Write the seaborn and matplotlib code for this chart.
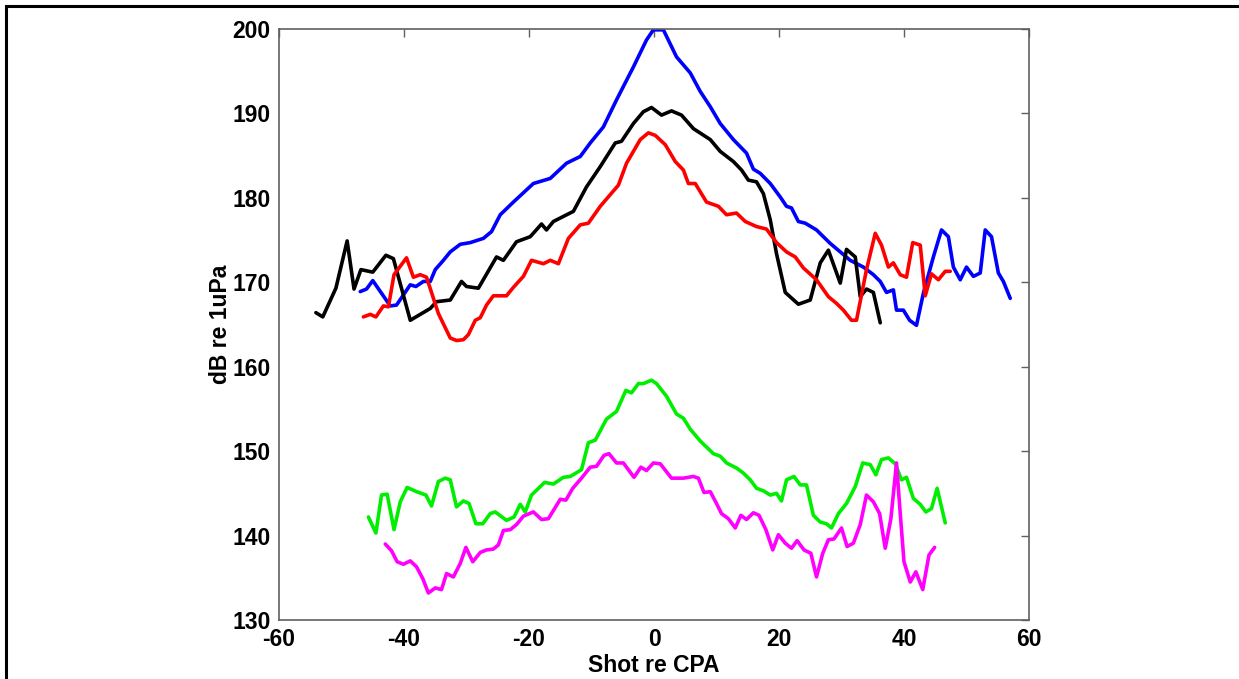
import matplotlib
matplotlib.use("Agg")
import matplotlib.pyplot as plt
from matplotlib.patches import Rectangle
import seaborn as sns
import pandas as pd

# shot number re CPA vs received level
black_x = [-54.1, -53.0, -50.9, -49.1, -48.0, -46.9, -45.0, -42.9, -41.7, -39.0, -35.8, -34.8, -32.6, -30.8,
           -30.0, -28.1, -25.2, -24.1, -22.0, -19.8, -18.0, -17.2, -16.1, -14.5, -12.9, -10.8, -8.6, -6.2, -5.2,
           -3.3, -1.7, -0.4, 1.2, 2.8, 4.4, 6.3, 9.0, 10.6, 12.7, 14.0, 15.1, 16.4, 17.5, 18.6, 19.6, 21.0, 23.1,
           25.0, 26.6, 27.9, 29.8, 30.8, 32.2, 33.0, 34.0, 35.1, 36.2]
black_y = [166.4, 165.9, 169.3, 174.9, 169.2, 171.5, 171.2, 173.2, 172.8, 165.5, 166.9, 167.7, 167.9, 170.1,
           169.5, 169.3, 173.0, 172.6, 174.8, 175.4, 176.9, 176.2, 177.2, 177.8, 178.4, 181.3, 183.7, 186.5, 186.7,
           188.8, 190.2, 190.7, 189.8, 190.3, 189.8, 188.2, 186.9, 185.5, 184.3, 183.3, 182.1, 181.9, 180.5, 177.4,
           173.4, 168.8, 167.4, 167.9, 172.3, 173.8, 169.9, 173.9, 173.0, 168.3, 169.2, 168.8, 165.2]

blue_x = [-47.0, -46.0, -45.0, -42.2, -41.2, -39.0, -38.1, -36.9, -35.8, -35.0, -33.7, -32.6, -31.0, -29.4, -27.3,
          -26.0, -24.6, -22.5, -19.3, -16.6, -14.0, -11.8, -10.2, -8.1, -6.0, -3.3, -1.2, -0.1, 1.5, 3.6, 5.8, 7.4,
          9.0, 10.6, 12.7, 14.8, 15.9, 17.0, 18.6, 20.2, 21.2, 22.0, 23.1, 24.2, 26.0, 28.2, 29.8, 31.4, 33.5, 35.1,
          36.2, 37.2, 38.3, 38.8, 39.9, 40.9, 42.0, 43.1, 44.7, 46.0, 47.1, 47.9, 49.0, 50.0, 51.1, 52.2, 53.0, 54.0,
          55.1, 55.9, 57.0]
blue_y = [168.9, 169.2, 170.2, 167.2, 167.3, 169.7, 169.5, 170.1, 170.1, 171.5, 172.6, 173.6, 174.5, 174.7, 175.2,
          176.0, 178.0, 179.5, 181.7, 182.3, 184.1, 184.9, 186.5, 188.4, 191.6, 195.5, 198.7, 199.9, 199.9, 196.7,
          194.8, 192.6, 190.8, 188.8, 186.9, 185.3, 183.4, 182.9, 181.7, 180.1, 179.0, 178.8, 177.2, 177.0, 176.2,
          174.6, 173.6, 172.6, 171.8, 170.9, 170.1, 168.8, 169.1, 166.7, 166.7, 165.5, 164.9, 168.7, 173.0, 176.2,
          175.4, 171.8, 170.3, 171.8, 170.7, 171.1, 176.2, 175.4, 171.1, 170.1, 168.1]

red_x = [-46.5, -45.4, -44.5, -43.3, -42.5, -41.6, -40.6, -39.6, -38.5, -37.4, -36.4, -34.5, -32.6, -31.6, -30.5,
         -29.7, -28.6, -27.8, -26.8, -25.7, -23.6, -22.5, -20.9, -19.6, -17.7, -16.6, -15.3, -13.7, -11.8, -10.5,
         -8.6, -5.7, -4.4, -2.2, -0.9, 0.2, 1.8, 3.4, 4.7, 5.5, 6.6, 8.4, 10.3, 11.6, 13.2, 14.6, 16.4, 18.0, 19.6,
         21.2, 22.6, 23.9, 26.0, 27.9, 29.2, 30.3, 31.6, 32.4, 34.0, 35.4, 36.4, 37.5, 38.3, 39.4, 40.4, 41.4, 42.6,
         43.4, 44.4, 45.5, 46.6, 47.4]
red_y = [165.9, 166.2, 165.9, 167.2, 167.1, 170.9, 171.9, 172.9, 170.6, 170.9, 170.6, 166.3, 163.4, 163.1, 163.2,
         163.8, 165.5, 165.8, 167.3, 168.4, 168.4, 169.4, 170.7, 172.6, 172.2, 172.6, 172.2, 175.2, 176.8, 177.0,
         179.0, 181.5, 184.1, 186.9, 187.7, 187.4, 186.3, 184.3, 183.3, 181.7, 181.7, 179.5, 179.0, 178.0, 178.2,
         177.2, 176.6, 176.3, 174.7, 173.6, 173.0, 171.7, 170.3, 168.3, 167.5, 166.7, 165.5, 165.5, 171.5, 175.8,
         174.4, 171.8, 172.3, 170.9, 170.6, 174.7, 174.4, 168.4, 171.0, 170.3, 171.3, 171.3]

green_x = [-45.7, -44.5, -43.6, -42.7, -41.6, -40.6, -39.5, -38.0, -36.5, -35.6, -34.5, -33.4, -32.6, -31.6, -30.5,
           -29.6, -28.5, -27.4, -26.2, -25.4, -23.6, -22.4, -21.4, -20.6, -19.6, -17.5, -16.1, -14.5, -13.4, -11.6,
           -10.5, -9.4, -7.6, -6.0, -4.5, -3.6, -2.5, -1.7, -0.4, 0.4, 2.0, 3.6, 4.7, 5.8, 7.4, 9.5, 10.6, 11.6,
           13.2, 14.3, 15.4, 16.4, 17.5, 18.6, 19.6, 20.4, 21.2, 22.4, 23.4, 24.4, 25.5, 26.6, 27.6, 28.4, 29.5,
           30.8, 32.2, 33.4, 34.6, 35.5, 36.4, 37.5, 38.6, 39.6, 40.4, 41.5, 42.6, 43.5, 44.4, 45.3, 46.6]
green_y = [142.2, 140.3, 144.8, 144.9, 140.7, 144.0, 145.7, 145.2, 144.8, 143.5, 146.4, 146.8, 146.6, 143.4, 144.1,
           143.8, 141.4, 141.4, 142.6, 142.8, 141.8, 142.2, 143.7, 142.8, 144.8, 146.3, 146.1, 146.9, 147.0, 147.8,
           151.0, 151.3, 153.8, 154.7, 157.2, 156.9, 158.0, 158.0, 158.4, 158.0, 156.5, 154.4, 153.9, 152.6, 151.2,
           149.7, 149.4, 148.6, 148.0, 147.4, 146.6, 145.6, 145.3, 144.8, 145.0, 144.1, 146.6, 147.0, 146.0, 146.0,
           142.4, 141.6, 141.4, 140.9, 142.6, 143.8, 145.8, 148.6, 148.4, 147.2, 149.0, 149.2, 148.5, 146.6, 146.9,
           144.4, 143.7, 142.8, 143.2, 145.6, 141.5]

magenta_x = [-43.0, -42.0, -41.1, -40.1, -39.0, -38.0, -37.0, -36.1, -35.0, -34.0, -33.2, -32.1, -31.0, -30.1, -29.0,
             -27.8, -26.8, -25.7, -24.9, -24.1, -23.0, -22.0, -20.9, -19.3, -18.0, -16.9, -15.0, -14.1, -13.0, -11.6,
             -10.2, -9.2, -8.0, -7.2, -6.0, -4.9, -3.2, -2.1, -1.2, -0.1, 1.0, 2.8, 4.7, 6.3, 7.1, 8.0, 9.0, 10.0,
             10.8, 11.9, 13.0, 13.9, 14.8, 15.9, 16.8, 17.9, 19.0, 19.9, 21.0, 22.0, 22.9, 24.0, 25.1, 26.0, 27.0,
             27.9, 28.8, 30.0, 30.9, 31.9, 33.0, 34.0, 35.1, 36.1, 37.0, 37.9, 38.8, 39.4, 40.0, 41.0, 41.9, 43.0,
             44.0, 44.9]
magenta_y = [139.0, 138.2, 136.9, 136.6, 137.0, 136.3, 134.9, 133.2, 133.8, 133.6, 135.5, 135.1, 136.7, 138.6, 136.9,
             138.0, 138.3, 138.4, 138.9, 140.6, 140.7, 141.3, 142.3, 142.8, 141.9, 142.0, 144.3, 144.2, 145.6, 146.8,
             148.1, 148.2, 149.5, 149.7, 148.6, 148.6, 146.9, 148.1, 147.7, 148.6, 148.5, 146.8, 146.8, 147.0, 146.8,
             145.1, 145.2, 143.8, 142.6, 142.0, 140.9, 142.4, 141.9, 142.7, 142.4, 140.7, 138.3, 140.1, 139.1, 138.5,
             139.4, 138.3, 137.9, 135.1, 137.9, 139.5, 139.6, 140.9, 138.7, 139.1, 141.3, 144.8, 144.0, 142.6, 138.5,
             142.0, 148.6, 142.6, 136.9, 134.5, 135.7, 133.6, 137.7, 138.6]

x_ticks = [-60, -40, -20, 0, 20, 40, 60]
y_ticks = [130, 140, 150, 160, 170, 180, 190, 200]

sns.set_style("white")
plt.rcParams['font.family'] = ['Liberation Sans', 'DejaVu Sans']
plt.rcParams['font.weight'] = 'bold'
plt.rcParams['axes.unicode_minus'] = False

fig = plt.figure(figsize=(12.39, 6.79), dpi=100)
ax = fig.add_axes([0.2252, 0.0869, 0.6053, 0.8704])

series = [(blue_x, blue_y, "#0000ff"), (black_x, black_y, "#000000"), (red_x, red_y, "#ff0000"),
          (green_x, green_y, "#00ee00"), (magenta_x, magenta_y, "#ff00ff")]
for xs, ys, col in series:
    df = pd.DataFrame({"x": xs, "y": ys})
    sns.lineplot(data=df, x="x", y="y", sort=False, color=col, linewidth=2.6, ax=ax)

ax.set_xlim(-60, 60)
ax.set_ylim(130, 200)
ax.set_xticks(x_ticks)
ax.set_yticks(y_ticks)
ax.tick_params(direction="in", length=6, width=1, color="#606060", labelsize=16.5,
               labelcolor="black", top=True, right=True, pad=6)
for lab in ax.get_xticklabels() + ax.get_yticklabels():
    lab.set_fontweight("bold")
for sp in ax.spines.values():
    sp.set_color("#606060")
    sp.set_linewidth(1.2)
ax.set_xlabel("Shot re CPA", fontsize=16.5, fontweight="bold", color="black", labelpad=2)
ax.set_ylabel("dB re 1uPa", fontsize=16.5, fontweight="bold", color="black", labelpad=0)

# black frame round the whole figure
fig.patches.append(Rectangle((6 / 1239, -0.05), 1.1, 1.05 - 6 / 679, transform=fig.transFigure,
                             fill=False, edgecolor="black", linewidth=2.2))

fig.savefig("out.png", dpi=100)
